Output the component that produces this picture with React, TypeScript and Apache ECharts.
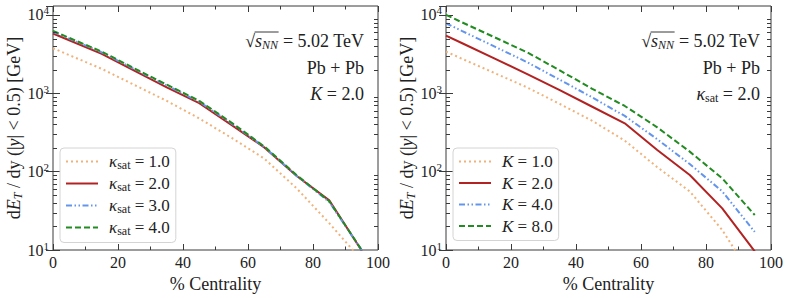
import React, { useEffect, useRef } from "react";
import * as echarts from "echarts";

// ---------- data ----------
const centrality = [0, 5, 15, 25, 35, 45, 55, 65, 75, 85, 95];

// left panel (K = 2.0), varying kappa_sat
const leftNames = ["κsat = 1.0", "κsat = 2.0", "κsat = 3.0", "κsat = 4.0"];
const kSat10 = [3760, 3070, 2050, 1280, 800, 478, 269, 147, 61, 22, 7.4];
const kSat20 = [5800, 4750, 3180, 1940, 1190, 747, 393, 204, 88, 43, 9.8];
const kSat30 = [6100, 4980, 3330, 2040, 1260, 780, 410, 206, 88, 41, 9.9];
const kSat40 = [6250, 5100, 3400, 2080, 1290, 800, 420, 210, 90, 42, 10];

// right panel (kappa_sat = 2.0), varying K
const rightNames = ["K = 1.0", "K = 2.0", "K = 4.0", "K = 8.0"];
const K10 = [3400, 2750, 1810, 1186, 731, 445, 249, 114, 56, 18, 4];
const K20 = [5440, 4350, 2770, 1760, 1094, 673, 414, 189, 90.6, 34, 9.6];
const K40 = [7830, 6220, 3940, 2490, 1490, 885, 514, 259, 125, 56, 17];
const K80 = [10000, 8020, 5170, 3330, 1960, 1140, 689, 368, 180, 82, 28];

const yMinorTicks = [20, 30, 40, 50, 60, 70, 80, 90, 200, 300, 400, 500, 600, 700, 800, 900, 2000, 3000, 4000, 5000, 6000, 7000, 8000, 9000];

// ---------- styles ----------
const FONT = "'Liberation Serif', 'DejaVu Serif', serif";
const AX = "#3a3a3a";
const TXT = "#222";
const lineStyles = [
  { color: "#F0B27A", type: [2, 3], width: 2 },
  { color: "#B22222", type: "solid", width: 2 },
  { color: "#6495ED", type: [6, 2.5, 1.5, 2.5, 1.5, 2.5], width: 2 },
  { color: "#228B22", type: [6, 3], width: 2 },
];

function measure(text: string, size: number, italic = false) {
  const c = document.createElement("canvas").getContext("2d")!;
  c.font = `${italic ? "italic " : ""}${size}px ${FONT}`;
  return c.measureText(text).width;
}

const grids = [
  { left: 53, right: 411, top: 6, bottom: 48 },
  { left: 446, right: 18, top: 6, bottom: 48 },
];

export default function App() {
  const ref = useRef<HTMLDivElement>(null);
  useEffect(() => {
    document.body.style.margin = "0";
    const chart = echarts.init(ref.current!, undefined, { renderer: "svg" });

    const xAxes: any[] = [];
    const yAxes: any[] = [];
    grids.forEach((_, gi) => {
      ["bottom", "top"].forEach((pos) => {
        xAxes.push({
          type: "value",
          gridIndex: gi,
          position: pos,
          min: 0,
          max: 100,
          interval: 20,
          axisLine: { show: false },
          axisTick: { show: true, inside: true, length: 6, lineStyle: { color: AX } },
          minorTick: { show: true, splitNumber: 2, length: 3.5, lineStyle: { color: AX } },
          splitLine: { show: false },
          axisLabel: {
            show: pos === "bottom",
            fontFamily: FONT,
            fontSize: 16,
            color: TXT,
            margin: 4,
          },
          name: pos === "bottom" ? "% Centrality" : "",
          nameLocation: "middle",
          nameGap: 22,
          nameTextStyle: { fontFamily: FONT, fontSize: 18, color: TXT },
        });
      });
      ["left", "right"].forEach((pos) => {
        yAxes.push({
          type: "log",
          logBase: 10,
          gridIndex: gi,
          position: pos,
          min: 10,
          max: 13000,
          axisLine: { show: false },
          axisTick: { show: true, inside: true, length: 7, lineStyle: { color: AX } },
          splitLine: { show: false },
          axisLabel: {
            show: pos === "left",
            showMaxLabel: false,
            margin: 4,
            formatter: (v: number) => {
              const e = Math.log10(v);
              const r = Math.round(e);
              if (Math.abs(e - r) > 1e-6) return "";
              return `{b|10}{p|${r}}`;
            },
            rich: {
              b: { fontFamily: FONT, fontSize: 16, lineHeight: 20, color: TXT },
              p: { fontFamily: FONT, fontSize: 11, lineHeight: 11, verticalAlign: "top", color: TXT },
            },
          },
          name:
            pos === "left"
              ? "{u|d}{i|E}{sb|T}{u| / dy (|}{i|y}{u|| < 0.5) [GeV]}"
              : "",
          nameLocation: "middle",
          nameGap: 26,
          nameTextStyle: {
            fontFamily: FONT,
            fontSize: 18,
            color: TXT,
            rich: {
              u: { fontFamily: FONT, fontSize: 18, lineHeight: 20, color: TXT },
              i: { fontFamily: FONT, fontSize: 18, fontStyle: "italic", lineHeight: 20, color: TXT },
              sb: { fontFamily: FONT, fontSize: 12, fontStyle: "italic", lineHeight: 14, verticalAlign: "bottom", color: TXT },
            },
          },
        });
      });
    });

    const mkLines = (gi: number, names: string[], sets: number[][]) =>
      sets.map((vals, i) => ({
        type: "line",
        name: names[i],
        xAxisIndex: gi * 2,
        yAxisIndex: gi * 2,
        data: centrality.map((c, j) => [c, vals[j]]),
        symbol: "none",
        showSymbol: false,
        clip: true,
        z: 2 + i,
        lineStyle: { color: lineStyles[i].color, width: lineStyles[i].width, type: lineStyles[i].type as any },
        itemStyle: { color: lineStyles[i].color },
      }));

    const minorTickSeries = (gi: number) => ({
      type: "custom",
      xAxisIndex: gi * 2,
      yAxisIndex: gi * 2,
      silent: true,
      z: 10,
      data: yMinorTicks.map((v) => [0, v]),
      renderItem: (params: any, api: any) => {
        const cs = params.coordSys;
        const y = Math.round(api.coord([0, api.value(1)])[1]) + 0.5;
        const x0 = cs.x;
        const x1 = cs.x + cs.width;
        return {
          type: "group",
          children: [
            { type: "line", shape: { x1: x0, y1: y, x2: x0 + 4, y2: y }, style: { stroke: AX, lineWidth: 1 } },
            { type: "line", shape: { x1: x1 - 4, y1: y, x2: x1, y2: y }, style: { stroke: AX, lineWidth: 1 } },
          ],
        };
      },
    });

    const legendBase = {
      orient: "vertical",
      top: 148,
      padding: [5, 6, 6, 5],
      itemGap: 4.5,
      itemWidth: 32,
      itemHeight: 14,
      itemStyle: { opacity: 0 },
      backgroundColor: "rgba(255,255,255,0.85)",
      borderColor: "#d4d4d4",
      borderWidth: 1,
      borderRadius: 4,
      textStyle: {
        fontFamily: FONT,
        fontSize: 17,
        color: TXT,
        rich: {
          k: { fontFamily: FONT, fontSize: 17, fontStyle: "italic", lineHeight: 18, padding: [0, 0, 0, 6], color: TXT },
          s: { fontFamily: FONT, fontSize: 12, lineHeight: 14, verticalAlign: "bottom", color: TXT },
          t: { fontFamily: FONT, fontSize: 17, lineHeight: 18, color: TXT },
        },
      },
    };

    // annotations
    const sz = 18;
    const annot = (xr: number, third: string, thirdRich: any) => {
      const w3 = measure(" = 5.02 TeV", sz);
      const w2 = measure("NN", 12, true);
      const w1 = measure("s", sz, true);
      const olY = 32;
      return [
        {
          type: "text",
          x: xr,
          y: 41,
          style: {
            text: "{r|√}{i|s}{sb|NN}{u| = 5.02 TeV}",
            align: "right",
            verticalAlign: "middle",
            fill: TXT,
            rich: {
              r: { fontFamily: FONT, fontSize: sz, lineHeight: 20, fill: TXT },
              i: { fontFamily: FONT, fontSize: sz, fontStyle: "italic", lineHeight: 20, fill: TXT },
              sb: { fontFamily: FONT, fontSize: 12, fontStyle: "italic", lineHeight: 15, verticalAlign: "bottom", fill: TXT },
              u: { fontFamily: FONT, fontSize: sz, lineHeight: 20, fill: TXT },
            },
          },
        },
        {
          type: "line",
          shape: { x1: xr - w3 - w2 - w1 - 0.5, y1: olY, x2: xr - w3 + 0.5, y2: olY },
          style: { stroke: TXT, lineWidth: 0.9 },
        },
        {
          type: "text",
          x: xr,
          y: 68,
          style: { text: "Pb + Pb", align: "right", verticalAlign: "middle", fontFamily: FONT, fontSize: sz, fill: TXT },
        },
        {
          type: "text",
          x: xr,
          y: 94,
          style: { text: third, align: "right", verticalAlign: "middle", fill: TXT, rich: thirdRich },
        },
      ];
    };

    const richBase = {
      k: { fontFamily: FONT, fontSize: sz, fontStyle: "italic", lineHeight: 20, fill: TXT },
      s: { fontFamily: FONT, fontSize: 12, lineHeight: 16, verticalAlign: "bottom", fill: TXT },
      t: { fontFamily: FONT, fontSize: sz, lineHeight: 20, fill: TXT },
    };

    chart.setOption({
      animation: false,
      backgroundColor: "#ffffff",
      grid: grids.map((g) => ({ ...g, show: true, borderColor: AX, borderWidth: 1, backgroundColor: "transparent" })),
      xAxis: xAxes,
      yAxis: yAxes,
      legend: [
        {
          ...legendBase,
          left: 60,
          data: leftNames,
          formatter: (name: string) => `{k|κ}{s|sat}{t| = ${name.split("= ")[1]}}`,
        },
        {
          ...legendBase,
          left: 453,
          data: rightNames,
          formatter: (name: string) => `{k|K}{t| = ${name.split("= ")[1]}}`,
        },
      ],
      series: [
        ...mkLines(0, leftNames, [kSat10, kSat20, kSat30, kSat40]),
        ...mkLines(1, rightNames, [K10, K20, K40, K80]),
        minorTickSeries(0),
        minorTickSeries(1),
      ],
      graphic: [
        ...annot(364, "{k|K}{t| = 2.0}", richBase),
        ...annot(760, "{k|κ}{s|sat}{t| = 2.0}", richBase),
      ],
    });
    return () => chart.dispose();
  }, []);
  return <div ref={ref} style={{ width: 789, height: 298 }} />;
}
